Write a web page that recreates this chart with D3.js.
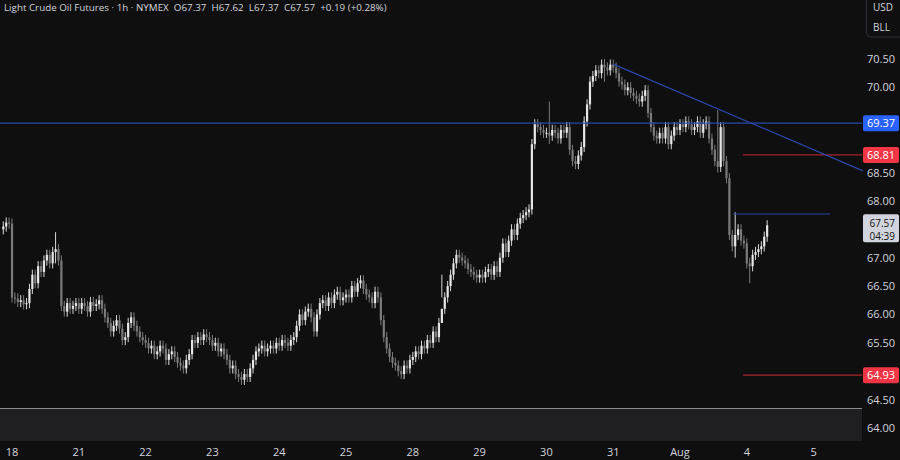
<!DOCTYPE html>
<html><head><meta charset="utf-8">
<script src="https://cdn.jsdelivr.net/npm/d3@7"></script>
<style>body{margin:0;background:#0f0f0f}svg{display:block;font-family:"Open Sans",sans-serif}</style>
</head><body><div id="chart"></div>
<script>
// hourly closes, one array per session day
const dayLabels = ["18","21","22","23","24","25","28","29","30","31","Aug","4","5"];
const pre = [67.55,67.62,67.60];
const d18 = [66.30,66.28,66.22,66.25,66.18,66.20,66.45,66.70,66.55,66.85,66.75,66.95,67.05,66.90,67.10,67.15,66.95,66.15,66.05,66.20,66.10,66.15,66.20];
const d21 = [66.10,66.20,66.15,66.05,66.22,66.15,66.18,66.25,66.10,65.95,65.85,65.70,65.80,65.90,65.75,65.55,65.60,65.85,65.95,65.80,65.70,65.60,65.55];
const d22 = [65.50,65.40,65.45,65.30,65.35,65.45,65.40,65.20,65.30,65.35,65.25,65.15,65.10,65.05,65.20,65.30,65.55,65.50,65.60,65.55,65.65,65.60,65.55];
const d23 = [65.45,65.50,65.35,65.40,65.30,65.20,65.05,65.10,64.95,64.90,64.85,64.95,64.90,65.05,65.20,65.35,65.40,65.45,65.35,65.40,65.45,65.40,65.50];
const d24 = [65.45,65.55,65.50,65.45,65.55,65.60,65.80,66.00,65.90,66.05,66.10,65.95,65.70,66.00,66.20,66.25,66.15,66.30,66.20,66.35,66.40,66.25,66.30];
const d25 = [66.35,66.30,66.50,66.40,66.55,66.60,66.45,66.35,66.30,66.20,66.40,66.30,65.90,65.60,65.40,65.25,65.15,65.10,65.00,64.95,65.10,65.05,65.20];
const d28 = [65.25,65.35,65.30,65.45,65.40,65.55,65.50,65.70,65.60,65.85,66.10,66.30,66.50,66.70,66.90,67.05,67.00,66.95,66.90,66.80,66.75,66.70,66.65];
const d29 = [66.70,66.65,66.75,66.80,66.70,66.85,66.75,67.00,67.25,67.10,67.30,67.50,67.40,67.60,67.70,67.75,67.80,67.85,69.00,69.35,69.30,69.25,69.20];
const d30 = [69.20,69.15,69.25,69.20,69.10,69.25,69.20,69.30,68.90,68.70,68.65,68.80,68.95,69.40,69.70,70.10,70.20,70.30,70.25,70.40,70.35,70.30,70.40];
const d31 = [70.35,70.25,70.10,70.05,69.95,70.00,69.90,69.85,69.80,69.75,69.85,69.95,69.55,69.30,69.15,69.10,69.20,69.10,69.30,69.00,69.15,69.30,69.25];
const aug1 = [69.35,69.30,69.40,69.35,69.25,69.30,69.40,69.20,69.35,69.40,69.10,68.90,68.70,68.60,69.30,68.70,68.40,67.40,67.20,67.40,67.50,67.30,67.25];
const aug4 = [66.90,66.85,67.05,67.10,67.15,67.20,67.37,67.57];
// a few longer wicks: [bar, high, low]
const wicks = [[18,67.45,66.9],[151,66.7,66.3],[188,69.75,69.0],[207,70.50,70.1],[246,69.60,68.5],[252,67.80,67.0],[257,67.0,66.55]];
const priceTicks = [64.00,64.50,65.00,65.50,66.00,66.50,67.00,67.50,68.00,68.50,69.00,69.50,70.00,70.50];
const levels = [{p:69.37,c:"#2962ff",txt:"#fff"},{p:68.81,c:"#f23645",txt:"#fff"},{p:64.93,c:"#f23645",txt:"#fff"}];
const trend = [[210,70.41],[296,68.53]];
const swingLine = 67.77;

const days = [d18,d21,d22,d23,d24,d25,d28,d29,d30,d31,aug1,aug4];
const closes = pre.concat(...days);
const W = 900, H = 460, plotR = 862;
const step = 66.8/23, x0 = 3.3;
const x = i => x0 + i*step;
const y = d3.scaleLinear().domain([64, 70.5]).range([428, 59]);

const svg = d3.select("#chart").append("svg").attr("width", W).attr("height", H);
svg.append("rect").attr("width", W).attr("height", H).attr("fill", "#0f0f0f");
svg.append("rect").attr("x", 0).attr("y", 408).attr("width", plotR).attr("height", 33).attr("fill", "#1f1f21");
svg.append("line").attr("x1",0).attr("x2",plotR).attr("y1",408.5).attr("y2",408.5).attr("stroke","#8a8a8a").attr("stroke-width",1);

// candles
const bars = closes.map((c, i) => {
  const o = i ? closes[i-1] : c - 0.05;
  let h = Math.max(o, c) + 0.09, l = Math.min(o, c) - 0.09;
  const w = wicks.find(v => v[0] === i);
  if (w) { h = w[1]; l = w[2]; }
  return {i, o, c, h, l};
});
const g = svg.append("g");
g.selectAll("line.w").data(bars).enter().append("line")
  .attr("x1", d => x(d.i)).attr("x2", d => x(d.i))
  .attr("y1", d => y(d.h)).attr("y2", d => y(d.l))
  .attr("stroke", d => d.c >= d.o ? "#d8d8d8" : "#7a7a7c").attr("stroke-width", 1);
g.selectAll("rect").data(bars).enter().append("rect")
  .attr("x", d => x(d.i) - 1.1).attr("width", 2.2)
  .attr("y", d => y(Math.max(d.o, d.c)))
  .attr("height", d => Math.max(1, Math.abs(y(d.o) - y(d.c))))
  .attr("fill", d => d.c >= d.o ? "#e6e6e6" : "#7a7a7c");

// drawn lines
svg.append("line").attr("x1",0).attr("x2",plotR).attr("y1",y(69.37)).attr("y2",y(69.37)).attr("stroke","#2949a8").attr("stroke-width",1.2);
svg.append("line").attr("x1",743).attr("x2",plotR).attr("y1",y(68.81)).attr("y2",y(68.81)).attr("stroke","#a8232f").attr("stroke-width",1.2);
svg.append("line").attr("x1",743).attr("x2",plotR).attr("y1",y(64.93)).attr("y2",y(64.93)).attr("stroke","#a8232f").attr("stroke-width",1.2);
svg.append("line").attr("x1",733).attr("x2",830).attr("y1",y(swingLine)).attr("y2",y(swingLine)).attr("stroke","#2949a8").attr("stroke-width",1.2);
svg.append("line").attr("x1",x(trend[0][0])).attr("x2",x(trend[1][0])).attr("y1",y(trend[0][1])).attr("y2",y(trend[1][1])).attr("stroke","#2949a8").attr("stroke-width",1.2);

// right axis (labels hidden under the price boxes are skipped)
const last = closes[closes.length-1];
const boxes = levels.map(l => y(l.p)).concat([y(last)+2]);
const ax = svg.append("g");
ax.selectAll("text").data(priceTicks.filter(t => boxes.every(b => Math.abs(y(t) - b) > 12))).enter().append("text")
  .attr("x", 895).attr("y", d => y(d) + 4).attr("text-anchor","end")
  .attr("fill","#d1d4dc").attr("font-size",11).text(d => d.toFixed(2));
levels.forEach(lv => {
  ax.append("rect").attr("x",863).attr("y",y(lv.p)-8).attr("width",36).attr("height",16).attr("rx",2).attr("fill",lv.c);
  ax.append("text").attr("x",895).attr("y",y(lv.p)+4).attr("text-anchor","end").attr("fill",lv.txt).attr("font-size",11).text(lv.p.toFixed(2));
});
ax.append("rect").attr("x",863).attr("y",y(last)-11).attr("width",36).attr("height",28).attr("rx",2).attr("fill","#d1d4dc");
ax.append("text").attr("x",895).attr("y",y(last)+2).attr("text-anchor","end").attr("fill","#131313").attr("font-size",10).text(last.toFixed(2));
ax.append("text").attr("x",895).attr("y",y(last)+14.5).attr("text-anchor","end").attr("fill","#131313").attr("font-size",10).text("04:39");
svg.append("rect").attr("x",866.5).attr("y",-4).attr("width",40).attr("height",41).attr("rx",4).attr("fill","none").attr("stroke","#2a2e39");
svg.append("text").attr("x",873).attr("y",11).attr("fill","#d1d4dc").attr("font-size",10).text("USD");
svg.append("text").attr("x",873).attr("y",31).attr("fill","#d1d4dc").attr("font-size",10).text("BLL");

// time axis: first bar of each day
let starts = [], idx = pre.length;
days.forEach(d => { starts.push(idx); idx += d.length; });
starts.push(starts[starts.length-1] + 23);
svg.selectAll("text.t").data(dayLabels).enter().append("text")
  .attr("x", (d, i) => x(starts[i])).attr("y", 456).attr("text-anchor","middle")
  .attr("fill","#d1d4dc").attr("font-size",11).text(d => d);

// header
svg.append("text").attr("x",4).attr("y",11).attr("fill","#d1d4dc").attr("font-size",9.8)
  .text("Light Crude Oil Futures · 1h · NYMEX  O67.37  H67.62  L67.37  C67.57  +0.19 (+0.28%)")
  .attr("xml:space","preserve").style("white-space","pre");
</script></body></html>
